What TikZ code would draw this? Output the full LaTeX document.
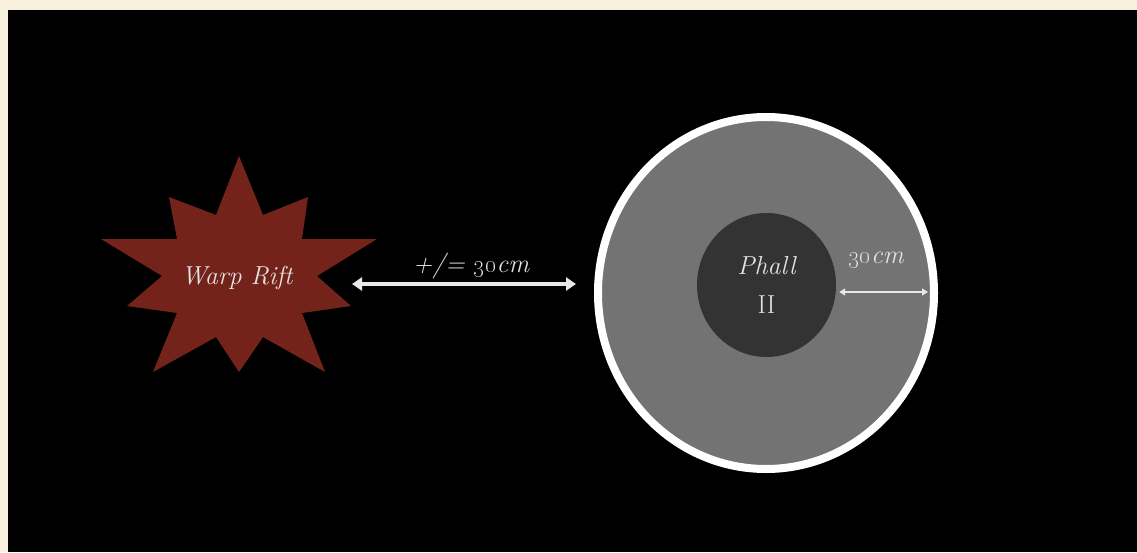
\documentclass[tikz,border=0pt]{standalone}
\usetikzlibrary{arrows.meta,shapes.geometric}
\definecolor{parch}{HTML}{F6F0DD}
\definecolor{riftred}{HTML}{74231A}
\definecolor{ringgrey}{HTML}{737373}
\definecolor{coregrey}{HTML}{333333}
\definecolor{lbl}{HTML}{E2E2E2}
\definecolor{arr}{HTML}{E8E8E8}
\tikzset{
  label text/.style={text=lbl, font=\fontsize{26}{30}\selectfont\itshape, inner sep=0pt},
  measure/.style={draw=arr, line width=4pt, {Triangle[width=13pt,length=10pt]}-{Triangle[width=13pt,length=10pt]}},
  small measure/.style={draw=arr, line width=2pt, {Triangle[width=7pt,length=6pt]}-{Triangle[width=7pt,length=6pt]}},
}
\begin{document}
\begin{tikzpicture}[x=1pt,y=-1pt]
\useasboundingbox (0,0) rectangle (1137,552);
% parchment frame and black board
\fill[parch] (0,0) rectangle (1137,552);
\fill[black] (8,10) rectangle (1137,552);

% the warp rift: a ten-pointed burst
\fill[riftred] (239,156) -- (263,215) -- (308,197) -- (302,239) -- (377,239)
  -- (317,276) -- (351,306) -- (302,313) -- (325,372) -- (263,337)
  -- (239,372) -- (216,337) -- (153,372) -- (177,313) -- (127,306)
  -- (162,276) -- (101,239) -- (177,239) -- (169,197) -- (216,215) -- cycle;
\node[label text] (rift) at (237,278) {Warp Rift};
\coordinate (riftedge) at (352,284);

% the world and its exclusion zone
\node[ellipse, draw=white, line width=8pt, fill=ringgrey,
      minimum width=336pt, minimum height=352pt, inner sep=0pt] (ring) at (766,293) {};
\node[ellipse, fill=coregrey, minimum width=139pt, minimum height=144pt,
      inner sep=0pt, align=center, text=lbl,
      font=\fontsize{26}{39}\selectfont] (phall) at (766.5,285) {\itshape Phall\\II};

% distances
\draw[measure] (riftedge) -- ([xshift=-18pt]ring.west |- riftedge);
\node[label text] (gap) at (471,266) {+/= \oldstylenums{30}cm};

\draw[small measure] ([xshift=3pt]phall.east |- 0,292) -- ([xshift=-10pt]ring.east |- 0,292);
\node[label text] (zone) at (876,260) {\oldstylenums{30}cm};
\end{tikzpicture}
\end{document}
